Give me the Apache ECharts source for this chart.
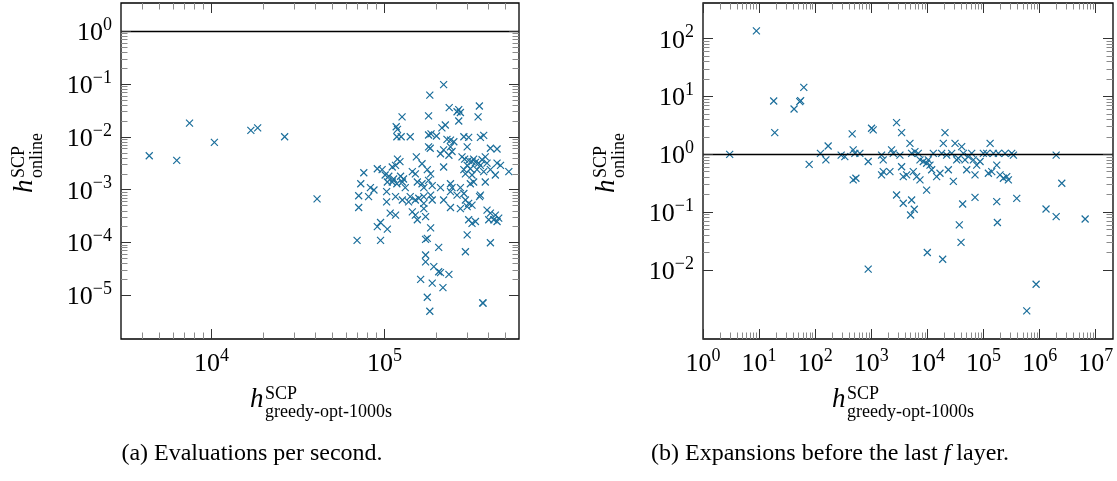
<!DOCTYPE html>
<html>
<head>
<meta charset="utf-8">
<script src="https://cdn.jsdelivr.net/npm/echarts@6/dist/echarts.min.js"></script>
<style>
html, body { margin: 0; padding: 0; background: #fff; }
#chart { width: 1117px; height: 481px; }
</style>
</head>
<body>
<div id="chart"></div>
<script>
// (a) evaluations per second: x = greedy-opt-1000s, y = online
const evalX = [
  4370, 6300, 7470, 10400, 16900, 18500, 26500, 40800,
  220000, 183000, 237000, 269000, 263000, 275000, 354000, 126500, 180000, 348000,
  269000, 225000, 215000, 117000, 119000, 118000, 125000, 141000, 180000, 186000,
  200000, 288000, 307000, 359000, 375000, 230000, 241000, 180000, 184000, 252000,
  241000, 246000, 220000, 211000, 410000, 448000, 301000, 236000, 153000, 119000,
  123000, 281000, 291000, 307000, 321000, 336000, 351000, 328000, 367000, 383000,
  392000, 220000, 165000, 301000, 359000, 448000, 469000, 116000, 111000, 91000,
  97000, 76000, 101000, 106000, 113000, 124000, 129000, 145000, 151000, 177000,
  185000, 524000, 288000, 314000, 343000, 375000, 410000, 438000, 294000, 321000,
  73000, 83000, 87000, 104000, 111000, 118000, 127000, 132000, 155000, 165000,
  180000, 189000, 169000, 241000, 246000, 275000, 328000, 383000, 314000, 71000,
  81000, 103000, 116000, 127000, 141000, 158000, 169000, 185000, 211000, 241000,
  220000, 263000, 288000, 359000, 355000, 103000, 138000, 151000, 169000, 189000,
  294000, 307000, 321000, 301000, 241000, 275000, 71000, 108000, 116000, 145000,
  151000, 169000, 173000, 392000, 410000, 438000, 458000, 429000, 401000, 448000,
  155000, 185000, 91000, 95000, 104000, 307000, 321000, 336000, 301000, 69500,
  95000, 173000, 177000, 206000, 294000, 410000, 173000, 173000, 193000, 206000,
  211000, 236000, 162000, 189000, 218000, 177000, 372000, 370000, 183000
];
const evalY = [
  0.0044, 0.0036, 0.0183, 0.0079, 0.0133, 0.0148, 0.0101, 0.00067,
  0.098, 0.062, 0.036, 0.033, 0.030, 0.029, 0.0385, 0.024, 0.025, 0.024,
  0.020, 0.0168, 0.0148, 0.0156, 0.0139, 0.0101, 0.0101, 0.0101, 0.0109, 0.0114,
  0.0104, 0.0101, 0.0098, 0.0098, 0.0107, 0.0090, 0.0087, 0.0065, 0.0061, 0.0081,
  0.0065, 0.0053, 0.0057, 0.0048, 0.0061, 0.0059, 0.0065, 0.0045, 0.0042, 0.0038,
  0.0034, 0.0042, 0.0038, 0.0036, 0.0034, 0.0033, 0.0032, 0.0038, 0.0037, 0.0042,
  0.0032, 0.0027, 0.0031, 0.0029, 0.0029, 0.0032, 0.0029, 0.0029, 0.0027, 0.0025,
  0.0024, 0.0021, 0.0019, 0.0018, 0.0016, 0.0018, 0.0016, 0.0022, 0.0020, 0.0024,
  0.0020, 0.0022, 0.0024, 0.0025, 0.0024, 0.0022, 0.0024, 0.0019, 0.0020, 0.0019,
  0.0013, 0.0011, 0.00099, 0.0014, 0.0014, 0.0013, 0.0014, 0.0011, 0.0014, 0.0013,
  0.0015, 0.0012, 0.0011, 0.0013, 0.0011, 0.0011, 0.0014, 0.0014, 0.0013, 0.00077,
  0.00074, 0.00092, 0.00074, 0.00064, 0.00074, 0.00069, 0.00074, 0.00079, 0.0011, 0.00092,
  0.00064, 0.00079, 0.00085, 0.00079, 0.00074, 0.00059, 0.00059, 0.00064, 0.00055, 0.00064,
  0.00064, 0.00055, 0.00051, 0.00048, 0.00046, 0.00044, 0.00046, 0.00036, 0.00033, 0.00038,
  0.00033, 0.00044, 0.00031, 0.00041, 0.00036, 0.00033, 0.00029, 0.00027, 0.00027, 0.00025,
  0.00027, 0.00019, 0.00020, 0.00024, 0.00018, 0.00027, 0.00023, 0.00025, 0.00014, 0.00011,
  0.00011, 0.000115, 0.00012, 0.000081, 0.000067, 0.000099, 0.000058, 0.000043, 0.000035, 0.000028,
  0.000027, 0.000025, 0.000020, 0.000017, 0.000014, 0.0000092, 0.0000071, 0.0000072, 0.0000050
];

// (b) expansions before the last f layer
const expX = [
  8.95, 2.99, 18.2, 19.0, 42, 53, 55, 62.6, 78, 124, 155, 170, 290,
  337, 475, 509, 625, 475, 531, 456, 1010, 1081, 880, 1523, 1630, 1523, 1630,
  2145, 2296, 2458, 2818, 3464, 3233, 3464, 3709, 4257, 4879, 5226, 5594, 5991,
  6871, 6418, 7361, 7361, 8438, 9680, 10370, 11100, 11890, 9680, 12730, 14590,
  16740, 17920, 19190, 20560, 22010, 23590, 27050, 28970, 31040, 33210, 35570,
  40780, 43660, 46770, 50120, 53590, 61500, 65900, 70500, 75500, 86700, 99300,
  114000, 122000, 131000, 140000, 150000, 172000, 184000, 197000, 226000, 242000,
  259000, 277000, 318000, 341000, 391000, 172000, 70500, 42450, 2818, 3709, 5226,
  5830, 5010, 880, 9950, 18700, 37000, 39700, 176600, 1970000, 6470000, 865000,
  589000, 1300000, 1970000, 2480000
];
const expY = [
  137, 1.0, 8.36, 2.37, 6.08, 8.14, 8.5, 14.4, 0.67, 1.04, 0.80, 1.39, 0.97,
  0.91, 1.19, 1.04, 1.04, 0.36, 0.385, 2.25, 2.82, 2.64, 0.75, 0.97, 0.80, 0.44, 0.50,
  0.50, 1.19, 1.04, 3.53, 2.37, 0.97, 0.61, 0.41, 0.44, 1.55, 1.04, 0.50, 1.11,
  1.04, 0.41, 0.36, 0.80, 0.75, 0.70, 0.80, 0.65, 0.54, 0.24, 1.04, 0.41,
  0.47, 1.04, 1.55, 2.37, 0.97, 0.54, 1.04, 0.34, 1.55, 0.80, 0.85,
  1.36, 1.04, 0.80, 0.54, 0.91, 1.04, 0.80, 0.44, 0.65, 0.75, 1.04,
  1.04, 0.47, 1.55, 0.50, 1.04, 0.65, 1.04, 0.44, 0.385, 1.04,
  0.41, 0.36, 1.04, 0.97, 0.173, 0.152, 0.18, 0.138, 0.198, 0.142, 0.162,
  0.112, 0.089, 0.0103, 0.020, 0.0153, 0.060, 0.030, 0.066, 0.0836, 0.076, 0.00565,
  0.00195, 0.113, 0.97, 0.315
];

// labelled (major) ticks
const evalXMajor = [1e4, 1e5];
const evalYMajor = [1e-5, 1e-4, 1e-3, 1e-2, 1e-1, 1e0];
const expXMajor = [1e0, 1e1, 1e2, 1e3, 1e4, 1e5, 1e6, 1e7];
const expYMajor = [1e-2, 1e-1, 1e0, 1e1, 1e2];
// minor ticks outside the labelled decades
const evalXMinorExtra = [4e3, 5e3, 6e3, 7e3, 8e3, 9e3, 2e5, 3e5, 4e5, 5e5];

const evalXRange = [3000, 600000];
const evalYRange = [1.49e-6, 3.44];
const expXRange = [1, 2.03e7];
const expYRange = [6.37e-4, 415];

const SERIF = '"Liberation Serif", "DejaVu Serif", serif';
const MARK = '#1b6e9b';
const CROSS = 'path://M0,0L10,10M10,0L0,10';
const GRIDS = [
  { left: 121, top: 3, width: 398, height: 336 },
  { left: 703, top: 3, width: 410, height: 336 }
];

function zip(xs, ys) {
  return xs.map((x, i) => [x, ys[i]]);
}

// minor ticks 2..9 inside each decade between consecutive majors
function minorsBetween(majors) {
  const out = [];
  for (let i = 0; i < majors.length - 1; i++) {
    for (let m = 2; m <= 9; m++) out.push(majors[i] * m);
  }
  return out;
}

function powFormatter(majors) {
  return function (v) {
    const hit = majors.find(m => Math.abs(Math.log10(v) - Math.log10(m)) < 1e-6);
    if (hit === undefined) return '';
    const e = Math.round(Math.log10(hit));
    return '{b|10}{e|' + (e < 0 ? '\u2212' + (-e) : e) + '}';
  };
}

const tickRich = {
  b: { fontFamily: SERIF, fontSize: 26, lineHeight: 30, verticalAlign: 'bottom', color: '#000' },
  e: { fontFamily: SERIF, fontSize: 18, lineHeight: 14, verticalAlign: 'top', color: '#000' }
};

function logAxis(grid, range, majors, isY) {
  return {
    type: 'log', gridIndex: grid, min: range[0], max: range[1],
    axisLine: { show: false },
    axisTick: { show: false },
    splitLine: { show: false },
    minorTick: { show: false },
    axisLabel: {
      show: true, interval: 0, margin: isY ? 9 : 8,
      showMinLabel: true, showMaxLabel: true, hideOverlap: false,
      formatter: powFormatter(majors), rich: tickRich
    }
  };
}

// inward frame ticks as short markLine segments; the inner end is the value
// that lies `len` pixels inside the frame on the log axis
function frameTicks(g, xr, yr, xMaj, xMin, yMaj, yMin) {
  const fy = len => Math.pow(10, len * Math.log10(yr[1] / yr[0]) / g.height);
  const fx = len => Math.pow(10, len * Math.log10(xr[1] / xr[0]) / g.width);
  const out = [];
  const seg = (a, b, major) => out.push([
    { coord: a, lineStyle: { color: major ? '#333' : '#8a8a8a', width: 1, type: 'solid' } },
    { coord: b }
  ]);
  [[xMaj, true], [xMin, false]].forEach(([vals, major]) => {
    const k = fy(major ? 10 : 6.5);
    vals.forEach(v => {
      seg([v, yr[0] * 1.0001], [v, yr[0] * k], major);
      seg([v, yr[1] / 1.0001], [v, yr[1] / k], major);
    });
  });
  [[yMaj, true], [yMin, false]].forEach(([vals, major]) => {
    const k = fx(major ? 10 : 6.5);
    vals.forEach(v => {
      seg([xr[0] * 1.0001, v], [xr[0] * k, v], major);
      seg([xr[1] / 1.0001, v], [xr[1] / k, v], major);
    });
  });
  return out;
}

function scatterSeries(idx, data, ticks) {
  return {
    type: 'scatter', xAxisIndex: idx, yAxisIndex: idx, data: data,
    symbol: CROSS, symbolSize: 7, silent: true, animation: false, z: 3,
    itemStyle: { color: MARK, borderColor: MARK, borderWidth: 1.2, opacity: 1 },
    markLine: {
      silent: true, symbol: 'none', animation: false, precision: 10,
      label: { show: false },
      lineStyle: { color: '#000', type: 'solid', width: 1 },
      data: [{ yAxis: 1, lineStyle: { color: '#000', width: 1.3, type: 'solid' } }].concat(ticks)
    }
  };
}

// h^{SCP}_{sub} label, optionally rotated
function hLabel(x, y, sub, rotated) {
  const base = rotated ? -31 : 0;
  return {
    type: 'group', x: x, y: y, rotation: rotated ? Math.PI / 2 : 0, silent: true,
    children: [
      { type: 'text', x: base, y: 0, style: { text: 'h', fontFamily: SERIF, fontStyle: 'italic', fontSize: 27, fill: '#000', align: 'left', verticalAlign: 'middle' } },
      { type: 'text', x: base + 15, y: -6, style: { text: 'SCP', fontFamily: SERIF, fontSize: 18, fill: '#000', align: 'left', verticalAlign: 'middle' } },
      { type: 'text', x: base + 15, y: 12, style: { text: sub, fontFamily: SERIF, fontSize: 18, fill: '#000', align: 'left', verticalAlign: 'middle' } }
    ]
  };
}

function caption(x, y, text) {
  return {
    type: 'text', x: x, y: y, silent: true,
    style: {
      text: text, fontFamily: SERIF, fontSize: 24, fill: '#000', align: 'center', verticalAlign: 'middle',
      rich: { i: { fontFamily: SERIF, fontStyle: 'italic', fontSize: 24 } }
    }
  };
}

const gridBase = {
  show: true, borderColor: '#000', borderWidth: 1.3,
  containLabel: false, outerBoundsMode: 'none'
};

const chart = echarts.init(document.getElementById('chart'), null, { renderer: 'canvas' });
chart.setOption({
  animation: false,
  backgroundColor: '#fff',
  textStyle: { fontFamily: SERIF },
  grid: GRIDS.map(g => Object.assign({}, g, gridBase)),
  xAxis: [
    logAxis(0, evalXRange, evalXMajor, false),
    logAxis(1, expXRange, expXMajor, false)
  ],
  yAxis: [
    logAxis(0, evalYRange, evalYMajor, true),
    logAxis(1, expYRange, expYMajor, true)
  ],
  series: [
    scatterSeries(0, zip(evalX, evalY),
      frameTicks(GRIDS[0], evalXRange, evalYRange, evalXMajor,
        minorsBetween(evalXMajor).concat(evalXMinorExtra), evalYMajor, minorsBetween(evalYMajor))),
    scatterSeries(1, zip(expX, expY),
      frameTicks(GRIDS[1], expXRange, expYRange, expXMajor, minorsBetween(expXMajor),
        expYMajor, minorsBetween(expYMajor)))
  ],
  graphic: [
    hLabel(250, 400, 'greedy-opt-1000s', false),
    hLabel(832, 400, 'greedy-opt-1000s', false),
    hLabel(25, 162, 'online', true),
    hLabel(607, 162, 'online', true),
    caption(252, 454, '(a) Evaluations per second.'),
    caption(830, 454, '(b) Expansions before the last {i|f} layer.')
  ]
});
window.onresize = function () { chart.resize(); };
</script>
</body>
</html>
